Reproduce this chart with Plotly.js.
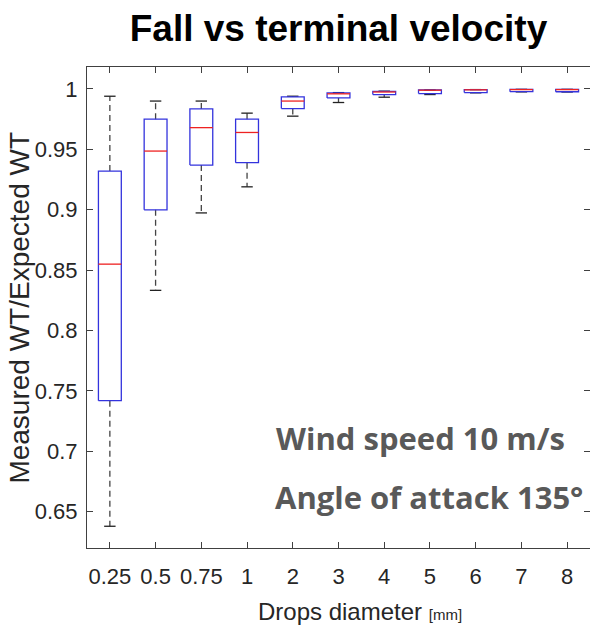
<!DOCTYPE html>
<html>
<head>
<meta charset="utf-8">
<script src="https://cdn.plot.ly/plotly-3.0.1.min.js"></script>
<style>html,body{margin:0;padding:0;background:#fff;}#chart{width:590px;height:630px;}</style>
</head>
<body>
<div id="chart"></div>
<script>
var categories = ['0.25','0.5','0.75','1','2','3','4','5','6','7','8'];
var upperWhisker = [0.994, 0.990, 0.990, 0.980, 0.994, 0.9970, 0.9982, 0.9992, 0.9995, 0.9997, 0.9997];
var q3Values     = [0.932, 0.975, 0.9835, 0.975, 0.9934, 0.9968, 0.9981, 0.9992, 0.9995, 0.9997, 0.9997];
var medianValues = [0.855, 0.9486, 0.968, 0.964, 0.990, 0.9960, 0.9975, 0.9990, 0.9993, 0.9995, 0.9995];
var q1Values     = [0.742, 0.900, 0.937, 0.939, 0.9838, 0.9926, 0.9954, 0.9962, 0.9970, 0.9978, 0.9977];
var lowerWhisker = [0.638, 0.8333, 0.8974, 0.919, 0.9775, 0.9888, 0.9932, 0.9954, 0.9968, 0.9976, 0.9975];

var BW = 0.25, CW = 0.125;
var bx=[],by=[],mx=[],my=[],wx=[],wy=[],cx=[],cy=[];
categories.forEach(function(c,i){
  bx.push(i-BW,i+BW,i+BW,i-BW,i-BW,null);
  by.push(q1Values[i],q1Values[i],q3Values[i],q3Values[i],q1Values[i],null);
  mx.push(i-BW,i+BW,null); my.push(medianValues[i],medianValues[i],null);
  wx.push(i,i,null,i,i,null);
  wy.push(q3Values[i],upperWhisker[i],null,q1Values[i],lowerWhisker[i],null);
  cx.push(i-CW,i+CW,null,i-CW,i+CW,null);
  cy.push(upperWhisker[i],upperWhisker[i],null,lowerWhisker[i],lowerWhisker[i],null);
});

var traces = [
  {x:wx,y:wy,mode:'lines',line:{color:'#444',width:1.3,dash:'6px,4px'},hoverinfo:'skip'},
  {x:cx,y:cy,mode:'lines',line:{color:'#222',width:1.3},hoverinfo:'skip'},
  {x:bx,y:by,mode:'lines',line:{color:'#3333dd',width:1.3},hoverinfo:'skip'},
  {x:mx,y:my,mode:'lines',line:{color:'#ee2222',width:1.3},hoverinfo:'skip'}
];

var SANS = 'Liberation Sans, Arial, sans-serif';
var tickFont = {family:SANS, size:22, color:'#262626'};
var layout = {
  width:590, height:630,
  margin:{l:87, r:0, t:67, b:82},
  showlegend:false,
  paper_bgcolor:'#fff', plot_bgcolor:'#fff',
  title:{text:'<b>Fall vs terminal velocity</b>', font:{family:SANS, size:37, color:'#000'}, xref:'paper', x:0.5, xanchor:'center', yref:'container', y:0.955, yanchor:'middle'},
  xaxis:{
    range:[-0.5,10.5], tickmode:'array', tickvals:categories.map(function(c,i){return i;}), ticktext:categories,
    showgrid:false, zeroline:false, showline:true, linecolor:'#404040', linewidth:1,
    mirror:'ticks', ticks:'inside', ticklen:6, tickcolor:'#404040', tickfont:tickFont, ticklabelstandoff:9
  },
  yaxis:{
    range:[0.62,1.0182], tickmode:'array', tickvals:[0.65,0.7,0.75,0.8,0.85,0.9,0.95,1],
    ticktext:['0.65','0.7','0.75','0.8','0.85','0.9','0.95','1'],
    showgrid:false, zeroline:false, showline:true, linecolor:'#404040', linewidth:1,
    mirror:'ticks', ticks:'inside', ticklen:6, tickcolor:'#404040', tickfont:tickFont, ticklabelstandoff:4
  },
  annotations:[
    {xref:'paper', yref:'paper', x:-0.135, y:0.5, xanchor:'center', yanchor:'middle', textangle:-90,
     text:'Measured WT/Expected WT', showarrow:false, font:{family:SANS, size:28, color:'#262626'}},
    {xref:'paper', yref:'paper', x:0.543, y:-0.133, xanchor:'center', yanchor:'middle',
     text:'Drops diameter <span style="font-size:15px">[mm]</span>', showarrow:false, font:{family:SANS, size:24, color:'#262626'}},
    {xref:'paper', yref:'paper', x:0.955, y:0.228, xanchor:'right', yanchor:'middle', showarrow:false,
     text:'<b>Wind speed 10 m/s</b>', font:{family:'Open Sans, sans-serif', size:31, color:'#595959'}},
    {xref:'paper', yref:'paper', x:0.99, y:0.105, xanchor:'right', yanchor:'middle', showarrow:false,
     text:'<b>Angle of attack 135°</b>', font:{family:'Open Sans, sans-serif', size:31, color:'#595959'}}
  ]
};
Plotly.newPlot('chart', traces, layout, {displayModeBar:false, staticPlot:true});
</script>
</body>
</html>
